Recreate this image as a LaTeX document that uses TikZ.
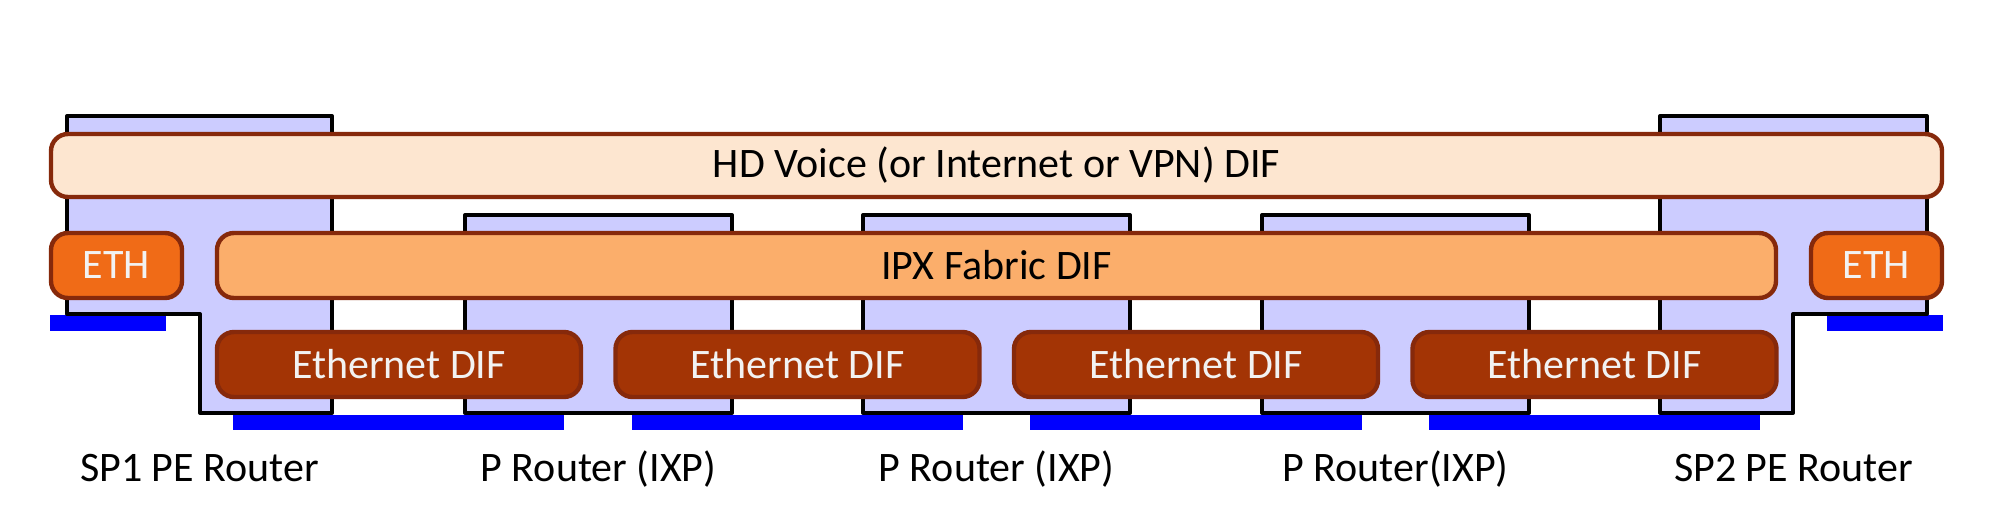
\documentclass[tikz,border=0pt]{standalone}
\usepackage{fontspec}
\setmainfont{Carlito}
\definecolor{hdfill}{HTML}{FDE6D0}
\definecolor{ipxfill}{HTML}{FBAE6B}
\definecolor{ethfill}{HTML}{F06B17}
\definecolor{enfill}{HTML}{A33405}
\definecolor{difborder}{HTML}{86290B}
\definecolor{routerfill}{HTML}{CCCCFF}
\definecolor{lighttext}{HTML}{F2F2F2}
\definecolor{linkblue}{HTML}{0000FF}
\tikzset{
  dif/.style={draw=difborder, line width=2.2pt, rounded corners=8.5pt, inner sep=0pt,
    font=\fontsize{21}{25}\selectfont, minimum height=32.5pt},
  hdbox/.style={dif, fill=hdfill, text=black, minimum width=945.5pt, minimum height=31.5pt},
  ipxbox/.style={dif, fill=ipxfill, text=black, minimum width=779.5pt},
  ethbox/.style={dif, fill=ethfill, text=lighttext, minimum width=65.5pt},
  enbox/.style={dif, fill=enfill, text=lighttext, minimum width=182pt},
  router/.style={draw=black, fill=routerfill, line width=2pt, line join=round},
  link/.style={fill=linkblue},
  rlabel/.style={anchor=base, inner sep=0pt, font=\fontsize{21}{25}\selectfont, text=black}
}
\begin{document}
\begin{tikzpicture}[x=0.5pt, y=-0.5pt]
\useasboundingbox (0,0) rectangle (2000,504);
% links
\path[link] (50,315) rectangle (166,331);
\path[link] (1827,315) rectangle (1943,331);
\path[link] (233,415) rectangle (564,430);
\path[link] (632,415) rectangle (963,430);
\path[link] (1030,415) rectangle (1362,430);
\path[link] (1429,415) rectangle (1760,430);
% routers
\draw[router] (67,116) -- (332,116) -- (332,413) -- (200,413) -- (200,314) -- (67,314) -- cycle;
\draw[router] (465,215) rectangle (732,413);
\draw[router] (863,215) rectangle (1130,413);
\draw[router] (1262,215) rectangle (1529,413);
\draw[router] (1660,116) -- (1927,116) -- (1927,314) -- (1793,314) -- (1793,413) -- (1660,413) -- cycle;
% DIFs
\node[hdbox] (hd) at (996.5,165.5) {HD Voice (or Internet or VPN) DIF};
\node[ethbox] (ethL) at (116.5,265.5) {ETH};
\node[ipxbox] (ipx) at (996.5,265.5) {IPX Fabric DIF};
\node[ethbox] (ethR) at (1876.5,265.5) {ETH};
\node[enbox] (en1) at (399,364.5) {Ethernet DIF};
\node[enbox] (en2) at (797.5,364.5) {Ethernet DIF};
\node[enbox] (en3) at (1196,364.5) {Ethernet DIF};
\node[enbox] (en4) at (1594.5,364.5) {Ethernet DIF};
% labels
\node[rlabel] (l1) at (199.5,481) {SP1 PE Router};
\node[rlabel] (l2) at (598.5,481) {P Router (IXP)};
\node[rlabel] (l3) at (996.5,481) {P Router (IXP)};
\node[rlabel] (l4) at (1395.5,481) {P Router(IXP)};
\node[rlabel] (l5) at (1793.5,481) {SP2 PE Router};
\end{tikzpicture}
\end{document}
